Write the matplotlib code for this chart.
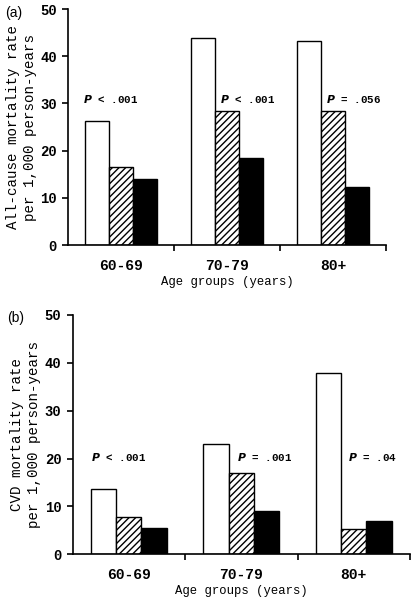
import numpy as np
import matplotlib.pyplot as plt

# age groups and mortality rates (per 1,000 person-years)
groups = ['60-69', '70-79', '80+']
allcause_white = [26.3, 43.8, 43.2]
allcause_hatch = [16.6, 28.4, 28.3]
allcause_black = [13.9, 18.4, 12.2]
cvd_white = [13.6, 23.0, 37.8]
cvd_hatch = [7.7, 16.9, 5.3]
cvd_black = [5.5, 9.0, 7.0]
p_allcause = ['< .001', '< .001', '= .056']
p_cvd = ['< .001', '= .001', '= .04']

mono = 'Liberation Mono'
fig = plt.figure(figsize=(4.15, 6.01), dpi=100)

# axes boxes in pixels: left, right, bottom, top
W, H = 415, 601
boxes = [(68, 386, 245, 9), (72.5, 410, 554.3, 315)]
panels = [
    ('(a)', allcause_white, allcause_hatch, allcause_black, p_allcause,
     'All-cause mortality rate\nper 1,000 person-years', [-0.36, 0.93, 1.93], 30.9, (5, 13)),
    ('(b)', cvd_white, cvd_hatch, cvd_black, p_cvd,
     'CVD mortality rate\nper 1,000 person-years', [-0.34, 0.96, 1.95], 20.4, (7, 318)),
]

x = np.arange(len(groups))
w = 0.225
for (l, r, b, t), (tag, wv, hv, bv, pv, ylab, px, py, tagpos) in zip(boxes, panels):
    ax = fig.add_axes([l / W, 1 - b / H, (r - l) / W, (b - t) / H])
    ax.bar(x - w, wv, w, color='white', edgecolor='black', linewidth=1.0)
    ax.bar(x, hv, w, color='white', edgecolor='black', hatch='/////', linewidth=1.0)
    ax.bar(x + w, bv, w, color='black', edgecolor='black', linewidth=1.0)
    ax.set_xlim(-0.5, 2.5)
    ax.set_ylim(0, 50)
    for s in ['top', 'right']:
        ax.spines[s].set_visible(False)
    for s in ['left', 'bottom']:
        ax.spines[s].set_linewidth(1.2)
    ax.set_yticks([0, 10, 20, 30, 40, 50])
    ax.set_xticks(x)
    ax.set_xticklabels(groups)
    ax.set_xticks([0.5, 1.5, 2.5], minor=True)
    ax.tick_params(axis='x', which='major', length=0, pad=10)
    ax.tick_params(axis='x', which='minor', length=4, width=1.2, direction='out')
    ax.tick_params(axis='y', length=4, width=1.2, pad=4)
    for lab in ax.get_xticklabels():
        lab.set_fontfamily(mono)
        lab.set_fontweight('bold')
        lab.set_fontsize(10.5)
    for lab in ax.get_yticklabels():
        lab.set_fontfamily(mono)
        lab.set_fontweight('bold')
        lab.set_fontsize(10)
    ax.set_xlabel('Age groups (years)', fontfamily=mono, fontsize=8.8, labelpad=2)
    ax.set_ylabel(ylab, fontfamily=mono, fontsize=10.2, linespacing=1.3)
    ax.yaxis.set_label_coords(-31 / (r - l), 0.5)
    for xi, txt in zip(px, pv):
        ax.text(xi, py, r'$\mathbfit{P}$ ' + txt, fontfamily=mono, fontweight='bold',
                fontsize=7.8, va='center', ha='left')
    fig.text(tagpos[0] / W, 1 - tagpos[1] / H, tag, fontfamily='Liberation Sans',
             fontsize=10, va='center', ha='left')

plt.savefig('out.png', dpi=100)
